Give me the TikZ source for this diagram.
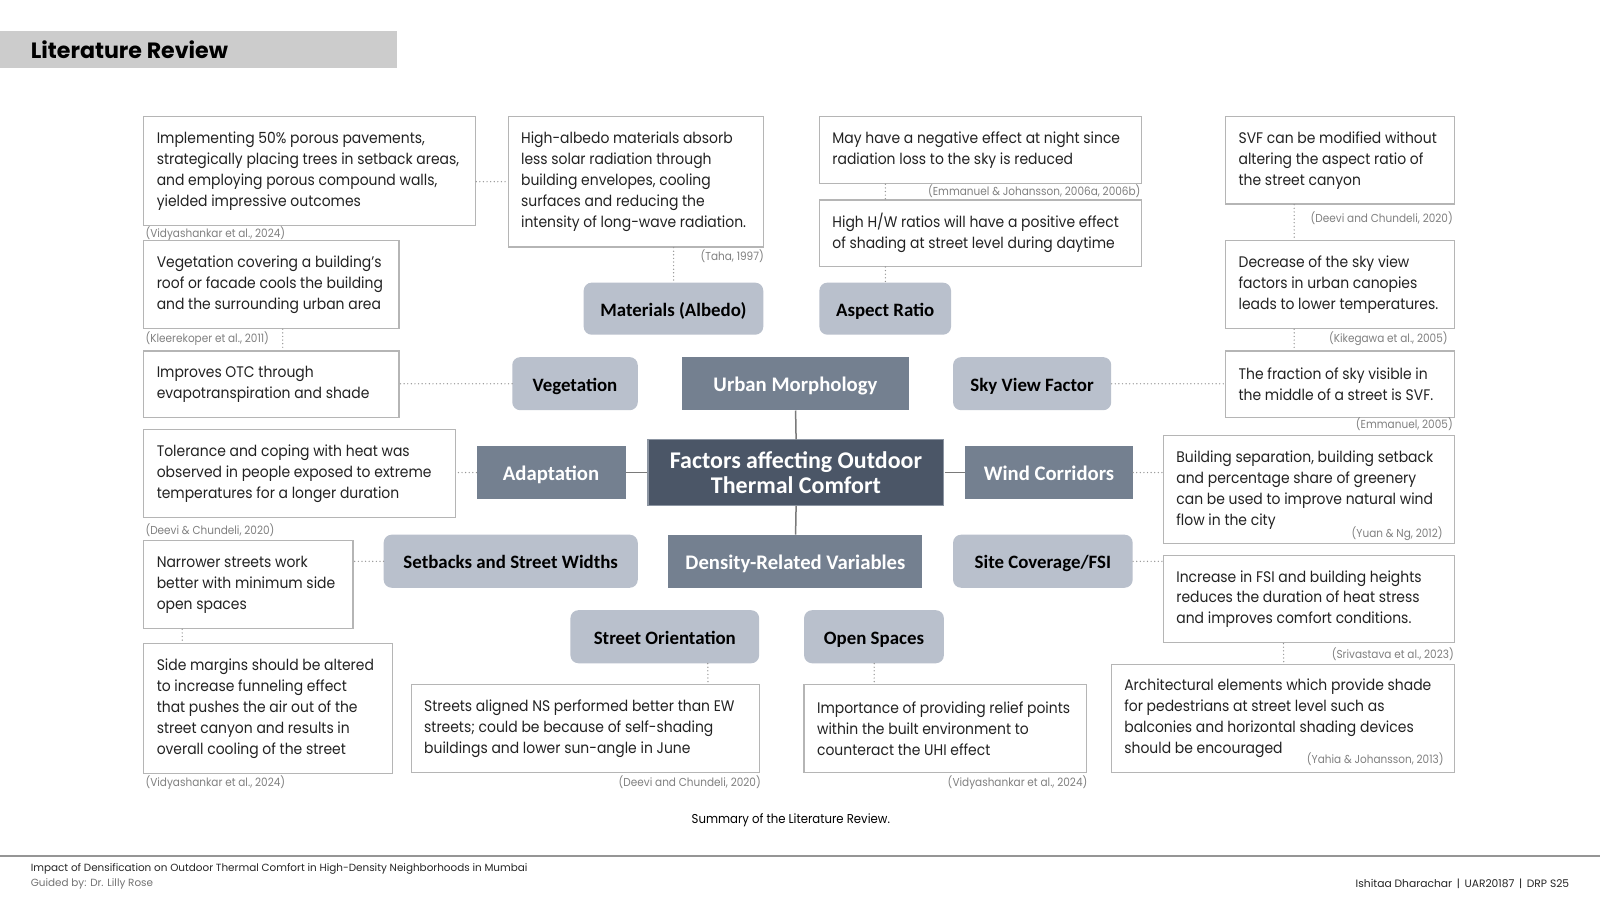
\documentclass[tikz,border=0pt]{standalone}
\usepackage{fontspec}
\setmainfont{Poppins}[FakeStretch=0.91]
\newfontfamily\calfont{Carlito}
\newfontfamily\popfont{Poppins}
\usetikzlibrary{calc}
\definecolor{boxline}{HTML}{B5B5B5}
\definecolor{bodytxt}{HTML}{222222}
\definecolor{citetxt}{HTML}{808080}
\definecolor{lightcat}{HTML}{B9C0CC}
\definecolor{midcat}{HTML}{748090}
\definecolor{darkcat}{HTML}{4B5667}
\definecolor{darkline}{HTML}{8C95A2}
\definecolor{conn}{HTML}{7A7A7A}
\definecolor{dotc}{HTML}{959595}
\definecolor{titlebar}{HTML}{CCCCCC}
\tikzset{
  tbox/.style={draw=boxline, line width=1.2pt, fill=white, inner sep=0pt},
  btext/.style={inner sep=0pt, align=left, text=bodytxt, font=\fontsize{15}{20.5}\selectfont},
  cite/.style={inner sep=0pt, text=citetxt, font=\fontsize{11.3}{13}\selectfont},
  lightbox/.style={fill=lightcat, rounded corners=8pt, inner sep=0pt, text height=15pt, text depth=0pt, text=black, font=\calfont\bfseries\fontsize{18.5}{20}\selectfont},
  midbox/.style={fill=midcat, inner sep=0pt, text height=16pt, text depth=0pt, text=white, font=\calfont\bfseries\fontsize{20.3}{22}\selectfont},
  centbox/.style={fill=darkcat, draw=darkline, line width=1.2pt, inner sep=0pt, align=center, text=white, font=\calfont\bfseries\fontsize{23.5}{24.5}\selectfont},
  solidc/.style={draw=conn, line width=1.5pt},
  dotl/.style={draw=dotc, line width=1.4pt, line cap=round, dash pattern=on 0pt off 3.6pt},
}
\newcommand\tb[6]{%
  \pgfmathsetmacro\tbw{#4-#2}\pgfmathsetmacro\tbh{#5-#3}%
  \node[tbox, minimum width=\tbw pt, minimum height=\tbh pt] (#1) at ({(#2+#4)/2},{(#3+#5)/2}) {};
  \node[btext, anchor=west] (#1t) at ($(#1.west)+(13,0)$) {#6};}
\newcommand\cat[7]{%
  \pgfmathsetmacro\tbw{#5-#3}\pgfmathsetmacro\tbh{#6-#4}%
  \node[#2, minimum width=\tbw pt, minimum height=\tbh pt] (#1) at ({(#3+#5)/2},{(#4+#6)/2}) {#7};}
\begin{document}
\begin{tikzpicture}[x=1pt,y=-1pt,scale=1.0204,transform shape]
\useasboundingbox[fill=white] (0,0) rectangle (1568,882);
% title
\fill[titlebar] (0,30) rectangle (389,67);
\node[anchor=west, inner sep=0pt, font=\popfont\bfseries\fontsize{21.7}{24}\selectfont, text=black] (title) at (30,49) {Literature Review};
% text boxes
\tb{B1}{141}{114}{466}{221}{Implementing 50\% porous pavements,\\strategically placing trees in setback areas,\\and employing porous compound walls,\\yielded impressive outcomes}
\tb{B2}{498}{114}{748}{242}{High-albedo materials absorb\\less solar radiation through\\building envelopes, cooling\\surfaces and reducing the\\intensity of long-wave radiation.}
\tb{B3}{803}{114}{1119}{180}{May have a negative effect at night since\\radiation loss to the sky is reduced}
\tb{B4}{803}{196}{1119}{261}{High H/W ratios will have a positive effect\\of shading at street level during daytime}
\tb{B5}{1201}{114}{1425}{200}{SVF can be modified without\\altering the aspect ratio of\\the street canyon}
\tb{B6}{1201}{236}{1425}{322}{Decrease of the sky view\\factors in urban canopies\\leads to lower temperatures.}
\tb{B7}{1201}{344}{1425}{409}{The fraction of sky visible in\\the middle of a street is SVF.}
\tb{B8}{141}{236}{391}{322}{Vegetation covering a building's\\roof or facade cools the building\\and the surrounding urban area}
\tb{B9}{141}{344}{391}{409}{Improves OTC through\\evapotranspiration and shade}
\tb{B10}{141}{421}{446}{507}{Tolerance and coping with heat was\\observed in people exposed to extreme\\temperatures for a longer duration}
\tb{B11}{1140}{427}{1425}{533}{Building separation, building setback\\and percentage share of greenery\\can be used to improve natural wind\\flow in the city}
\tb{B12}{1140}{544}{1425}{630}{Increase in FSI and building heights\\reduces the duration of heat stress\\and improves comfort conditions.}
\tb{B13}{141}{530}{346}{616}{Narrower streets work\\better with minimum side\\open spaces}
\tb{B14}{141}{631}{385}{758}{Side margins should be altered\\to increase funneling effect\\that pushes the air out of the\\street canyon and results in\\overall cooling of the street}
\tb{B15}{403}{671}{744}{757}{Streets aligned NS performed better than EW\\streets; could be because of self-shading\\buildings and lower sun-angle in June}
\tb{B16}{788}{671}{1065}{757}{Importance of providing relief points\\within the built environment to\\counteract the UHI effect}
\tb{B17}{1089}{651}{1425}{757}{Architectural elements which provide shade\\for pedestrians at street level such as\\balconies and horizontal shading devices\\should be encouraged}
% citations
\node[cite, anchor=west] (c1) at ($(B1.south west)+(2,7)$) {(Vidyashankar et al., 2024)};
\node[cite, anchor=east] (c2) at ($(B2.south east)+(0,8)$) {(Taha, 1997)};
\node[cite, anchor=east] (c3) at ($(B3.south east)+(-2,7)$) {(Emmanuel \& Johansson, 2006a, 2006b)};
\node[cite, anchor=east] (c5) at ($(B5.south east)+(-2,13)$) {(Deevi and Chundeli, 2020)};
\node[cite, anchor=east] (c6) at ($(B6.south east)+(-7,9)$) {(Kikegawa et al., 2005)};
\node[cite, anchor=east] (c7) at ($(B7.south east)+(-2,6)$) {(Emmanuel, 2005)};
\node[cite, anchor=west] (c8) at ($(B8.south west)+(2,9)$) {(Kleerekoper et al., 2011)};
\node[cite, anchor=west] (c10) at ($(B10.south west)+(2,12)$) {(Deevi \& Chundeli, 2020)};
\node[cite, anchor=east] (c11) at ($(B11.south east)+(-12,-11)$) {(Yuan \& Ng, 2012)};
\node[cite, anchor=east] (c12) at ($(B12.south east)+(-1,10)$) {(Srivastava et al., 2023)};
\node[cite, anchor=west] (c14) at ($(B14.south west)+(2,8)$) {(Vidyashankar et al., 2024)};
\node[cite, anchor=east] (c15) at ($(B15.south east)+(1,9)$) {(Deevi and Chundeli, 2020)};
\node[cite, anchor=east] (c16) at ($(B16.south east)+(0,9)$) {(Vidyashankar et al., 2024)};
\node[cite, anchor=east] (c17) at ($(B17.south east)+(-11,-14)$) {(Yahia \& Johansson, 2013)};
% category nodes
\cat{TC}{centbox}{635}{431}{925}{495}{Factors affecting Outdoor\\Thermal Comfort}
\cat{UM}{midbox}{668}{350}{891}{402}{Urban Morphology}
\cat{AD}{midbox}{467}{437}{613}{489}{Adaptation}
\cat{WC}{midbox}{946}{437}{1110}{489}{Wind Corridors}
\cat{DR}{midbox}{655}{524}{904}{576}{Density-Related Variables}
\cat{MA}{lightbox}{572}{277}{748}{328}{Materials (Albedo)}
\cat{AR}{lightbox}{803}{277}{932}{328}{Aspect Ratio}
\cat{VE}{lightbox}{502}{350}{625}{402}{Vegetation}
\cat{SV}{lightbox}{934}{350}{1089}{402}{Sky View Factor}
\cat{SS}{lightbox}{376}{524}{625}{576}{Setbacks and Street Widths}
\cat{SC}{lightbox}{934}{524}{1110}{576}{Site Coverage/FSI}
\cat{SO}{lightbox}{559}{598}{744}{650}{Street Orientation}
\cat{OS}{lightbox}{788}{598}{925}{650}{Open Spaces}
% solid connectors
\draw[solidc] (UM.south) -- (TC.north);
\draw[solidc] (TC.south) -- (DR.north);
\draw[solidc] (AD.east) -- (TC.west |- AD.east);
\draw[solidc] (TC.east |- WC.west) -- (WC.west);
% dotted connectors
\draw[dotl] (B2.west -| B1.east) -- (B2.west);
\draw[dotl] (B2.south -| MA.north) -- (MA.north);
\draw[dotl] (B3.south -| AR.north) -- (B4.north -| AR.north);
\draw[dotl] (B4.south -| AR.north) -- (AR.north);
\draw[dotl] ($(B5.south)+(-45,0)$) -- ($(B6.north)+(-45,0)$);
\draw[dotl] ($(B6.south)+(-45,0)$) -- ($(B7.north)+(-45,0)$);
\draw[dotl] (SV.east) -- (SV.east -| B7.west);
\draw[dotl] (VE.west) -- (VE.west -| B9.east);
\draw[dotl] ($(B8.south)+(11,0)$) -- ($(B9.north)+(11,0)$);
\draw[dotl] (AD.west) -- (AD.west -| B10.east);
\draw[dotl] (WC.east) -- (WC.east -| B11.west);
\draw[dotl] (SC.east) -- (SC.east -| B12.west);
\draw[dotl] (SS.west) -- (SS.west -| B13.east);
\draw[dotl] ($(B13.south)+(-65,0)$) coordinate (d13) -- (d13 |- B14.north);
\draw[dotl] ($(SO.south)+(42,0)$) coordinate (dso) -- (dso |- B15.north);
\draw[dotl] (OS.south) -- (OS.south |- B16.north);
\draw[dotl] ($(B12.south)+(-25,0)$) coordinate (d12) -- (d12 |- B17.north);
% caption
\node[inner sep=0pt, text=black, font=\fontsize{12.6}{14}\selectfont] (cap) at (775,804) {Summary of the Literature Review.};
% footer
\draw[draw=conn!80, line width=1.3pt] (0,839) coordinate (fl) -- (1568,839) coordinate (fr);
\node[anchor=west, inner sep=0pt, text=black!85, font=\popfont\fontsize{10.2}{12}\selectfont] (f1) at (30,852) {Impact of Densification on Outdoor Thermal Comfort in High-Density Neighborhoods in Mumbai};
\node[anchor=west, inner sep=0pt, text=black!55, font=\popfont\fontsize{10.2}{12}\selectfont] (f2) at (30,866) {Guided by: Dr. Lilly Rose};
\node[anchor=east, inner sep=0pt, text=black!85, font=\popfont\fontsize{10.5}{12}\selectfont] (f3) at (1538,866) {Ishitaa Dharachar \,|\, UAR20187 \,|\, DRP S25};
\end{tikzpicture}
\end{document}
